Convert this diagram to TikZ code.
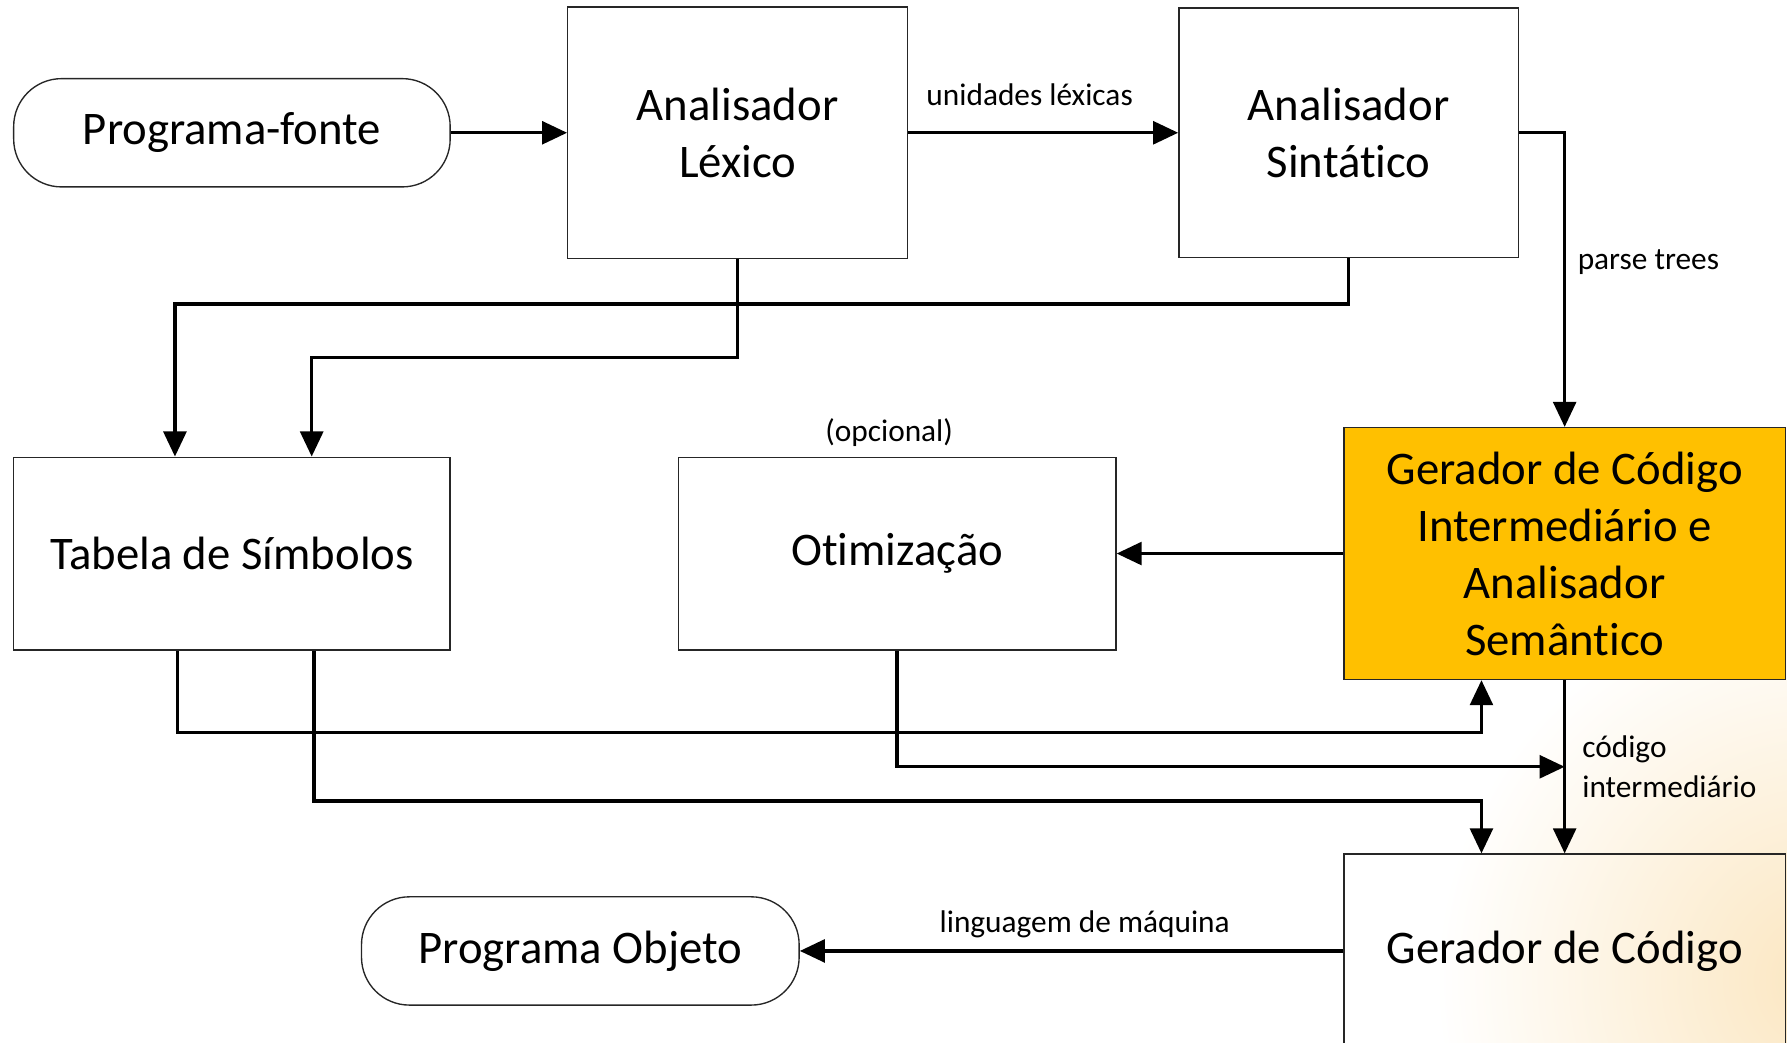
\documentclass[tikz,border=0pt]{standalone}
\usepackage{fontspec}
\setmainfont{Carlito}[RawFeature={-liga;-clig;-calt}]
\usepackage{xcolor}
\usetikzlibrary{arrows.meta,positioning}
\definecolor{stageGold}{HTML}{FFC000}
\definecolor{cornerGlow}{HTML}{FBE6C0}
\tikzset{
    stageBox/.style={
        draw=black!85,
        line width=1.2pt,
        align=center,
        inner sep=0pt,
        font=\fontsize{41}{50}\selectfont
    },
    endBox/.style={
        stageBox,
        rounded corners=42pt,
        minimum width=383pt,
        minimum height=95pt
    },
    flowArrow/.style={
        -{Triangle[length=22pt,width=20pt]},
        line width=3pt
    },
    flowLabel/.style={
        font=\fontsize{27.5}{35}\selectfont,
        align=left,
        inner sep=2pt
    }
}

\begin{document}
\begin{tikzpicture}[x=1pt,y=1pt]
        \clip (0,0) rectangle (1568,-915);
        \shade[inner color=cornerGlow,outer color=white] (1600,-860) circle (340pt);

        \node[endBox] (src) at (203.5,-116.5) {Programa-fonte};
        \node[stageBox,minimum width=298pt,minimum height=221pt,right=102pt of src] (lex) {Analisador\\Léxico};
        \node[stageBox,minimum width=298pt,minimum height=219pt,right=237pt of lex] (sin) {Analisador\\Sintático};

        \node[stageBox,minimum width=383pt,minimum height=169pt,below=236pt of src] (tab) {Tabela de Símbolos};
        \node[stageBox,minimum width=384pt,minimum height=169pt,right=199pt of tab] (otm) {Otimização};
        \node[stageBox,fill=stageGold,minimum width=387pt,minimum height=221pt,right=199pt of otm] (gci) {Gerador de Código\\Intermediário e\\Analisador\\Semântico};
        \node[flowLabel,above=7pt of otm,xshift=-7pt] (opt) {(opcional)};

        \node[stageBox,minimum width=387pt,minimum height=170pt,below=152pt of gci] (gcd) {Gerador de Código};
        \node[endBox,minimum width=384pt,left=477pt of gcd] (obj) {Programa Objeto};

        \draw[flowArrow] (src) -- (lex);
        \draw[flowArrow] (lex.east) -- node[flowLabel,above=20pt,pos=0.45] {unidades léxicas} (lex.east -| sin.west);
        \draw[flowArrow] (sin.east) -| node[flowLabel,right=8pt,pos=0.72] {parse trees} (gci.north);
        \draw[flowArrow] (sin.south) -- ++(0,-40) -| ([xshift=-50pt]tab.north);
        \draw[flowArrow] (lex.south) -- ++(0,-86) -| ([xshift=70pt]tab.north);
        \draw[flowArrow] (gci) -- (otm);

        \draw[flowArrow] ([xshift=-48pt]tab.south) -- ++(0,-72) -| ([xshift=-73pt]gci.south);
        \coordinate (join) at ([yshift=-76pt]gci.south);
        \draw[flowArrow] (otm.south) |- (join);
        \draw[flowArrow] ([xshift=72pt]tab.south) -- ++(0,-132) -| ([xshift=-73pt]gcd.north);
        \draw[flowArrow] (gci) -- node[flowLabel,right=12pt] {código\\intermediário} (gcd);
        \draw[flowArrow] (gcd) -- node[flowLabel,above=8pt,pos=0.476] {linguagem de máquina} (obj);
    \end{tikzpicture}
\end{document}
